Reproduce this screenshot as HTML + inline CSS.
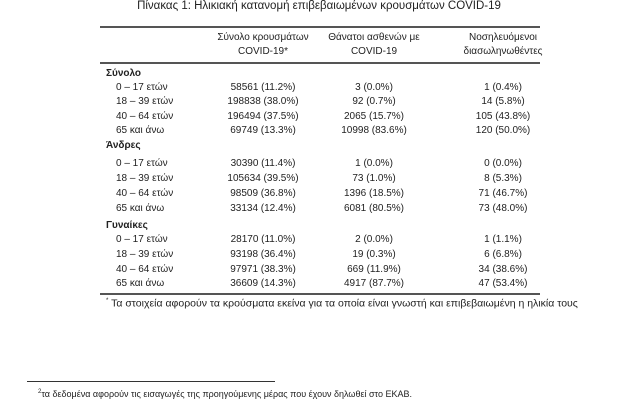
<!DOCTYPE html>
<html><head><meta charset="utf-8"><style>
body{margin:0;width:627px;height:400px;background:#fff;position:relative;font-family:"Liberation Sans","DejaVu Sans",sans-serif;color:#222;overflow:hidden}
.t{position:absolute;font-size:10px;white-space:nowrap;line-height:12px}
.c{transform:translateX(-50%)}
.b{font-weight:bold}
.r{position:absolute;background:#555}
</style></head><body>
<div class="t c" style="left:319px;top:0px;font-size:11.5px">Πίνακας 1: Ηλικιακή κατανομή επιβεβαιωμένων κρουσμάτων COVID-19</div>
<div class="r" style="left:100px;top:26px;width:440px;height:1.5px"></div>
<div class="t c" style="left:263px;top:32px">Σύνολο κρουσμάτων</div>
<div class="t c" style="left:263px;top:46px">COVID-19*</div>
<div class="t c" style="left:374px;top:32px">Θάνατοι ασθενών με</div>
<div class="t c" style="left:374px;top:46px">COVID-19</div>
<div class="t c" style="left:503px;top:32px">Νοσηλευόμενοι</div>
<div class="t c" style="left:503px;top:46px">διασωληνωθέντες</div>
<div class="r" style="left:100px;top:62px;width:440px;height:1.5px"></div>

<div class="t b" style="left:106px;top:68px">Σύνολο</div>
<div class="t" style="left:116px;top:82px">0 – 17 ετών</div><div class="t c" style="left:263px;top:82px">58561 (11.2%)</div><div class="t c" style="left:374px;top:82px">3 (0.0%)</div><div class="t c" style="left:503px;top:82px">1 (0.4%)</div>
<div class="t" style="left:116px;top:96px">18 – 39 ετών</div><div class="t c" style="left:263px;top:96px">198838 (38.0%)</div><div class="t c" style="left:374px;top:96px">92 (0.7%)</div><div class="t c" style="left:503px;top:96px">14 (5.8%)</div>
<div class="t" style="left:116px;top:111px">40 – 64 ετών</div><div class="t c" style="left:263px;top:111px">196494 (37.5%)</div><div class="t c" style="left:374px;top:111px">2065 (15.7%)</div><div class="t c" style="left:503px;top:111px">105 (43.8%)</div>
<div class="t" style="left:116px;top:125px">65 και άνω</div><div class="t c" style="left:263px;top:125px">69749 (13.3%)</div><div class="t c" style="left:374px;top:125px">10998 (83.6%)</div><div class="t c" style="left:503px;top:125px">120 (50.0%)</div>

<div class="t b" style="left:106px;top:140px">Άνδρες</div>
<div class="t" style="left:116px;top:158px">0 – 17 ετών</div><div class="t c" style="left:263px;top:158px">30390 (11.4%)</div><div class="t c" style="left:374px;top:158px">1 (0.0%)</div><div class="t c" style="left:503px;top:158px">0 (0.0%)</div>
<div class="t" style="left:116px;top:173px">18 – 39 ετών</div><div class="t c" style="left:263px;top:173px">105634 (39.5%)</div><div class="t c" style="left:374px;top:173px">73 (1.0%)</div><div class="t c" style="left:503px;top:173px">8 (5.3%)</div>
<div class="t" style="left:116px;top:188px">40 – 64 ετών</div><div class="t c" style="left:263px;top:188px">98509 (36.8%)</div><div class="t c" style="left:374px;top:188px">1396 (18.5%)</div><div class="t c" style="left:503px;top:188px">71 (46.7%)</div>
<div class="t" style="left:116px;top:203px">65 και άνω</div><div class="t c" style="left:263px;top:203px">33134 (12.4%)</div><div class="t c" style="left:374px;top:203px">6081 (80.5%)</div><div class="t c" style="left:503px;top:203px">73 (48.0%)</div>

<div class="t b" style="left:106px;top:220px">Γυναίκες</div>
<div class="t" style="left:116px;top:234px">0 – 17 ετών</div><div class="t c" style="left:263px;top:234px">28170 (11.0%)</div><div class="t c" style="left:374px;top:234px">2 (0.0%)</div><div class="t c" style="left:503px;top:234px">1 (1.1%)</div>
<div class="t" style="left:116px;top:249px">18 – 39 ετών</div><div class="t c" style="left:263px;top:249px">93198 (36.4%)</div><div class="t c" style="left:374px;top:249px">19 (0.3%)</div><div class="t c" style="left:503px;top:249px">6 (6.8%)</div>
<div class="t" style="left:116px;top:264px">40 – 64 ετών</div><div class="t c" style="left:263px;top:264px">97971 (38.3%)</div><div class="t c" style="left:374px;top:264px">669 (11.9%)</div><div class="t c" style="left:503px;top:264px">34 (38.6%)</div>
<div class="t" style="left:116px;top:278px">65 και άνω</div><div class="t c" style="left:263px;top:278px">36609 (14.3%)</div><div class="t c" style="left:374px;top:278px">4917 (87.7%)</div><div class="t c" style="left:503px;top:278px">47 (53.4%)</div>

<div class="r" style="left:100px;top:293px;width:440px;height:1.5px"></div>
<div class="t" style="left:106px;top:295px;font-size:10.5px"><sup style="font-size:6px">*</sup> Τα στοιχεία αφορούν τα κρούσματα εκείνα για τα οποία είναι γνωστή και επιβεβαιωμένη η ηλικία τους</div>
<div class="r" style="left:27px;top:381px;width:248px;height:1px;background:#333"></div>
<div class="t" style="left:38px;top:386px;font-size:9px"><sup style="font-size:6px">2</sup>τα δεδομένα αφορούν τις εισαγωγές της προηγούμενης μέρας που έχουν δηλωθεί στο ΕΚΑΒ.</div>
</body></html>
